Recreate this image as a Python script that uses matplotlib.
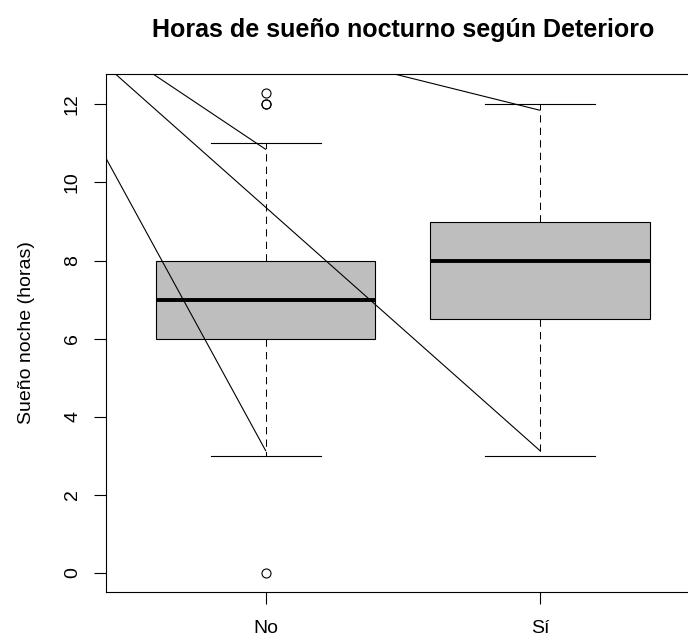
import matplotlib
matplotlib.use("Agg")
import matplotlib.pyplot as plt

plt.rcParams['font.family'] = ['Liberation Sans', 'DejaVu Sans']

categories = ["No", "Sí"]
q1 = [6.0, 6.5]
median = [7.0, 8.0]
q3 = [8.0, 9.0]
whis_lo = [3.0, 3.0]
whis_hi = [11.0, 12.0]
fliers = [[12.0, 12.0, 12.3, 0.0], []]

# extra straight lines drawn over the plot (x0, y0, x1, y1) in data units
seg_x0 = [0.0, 0.0, 0.0, 1.0]
seg_y0 = [16.0, 15.6, 15.55, 13.6]
seg_x1 = [1.0, 2.0, 1.0, 2.0]
seg_y1 = [3.13, 3.13, 10.85, 11.85]

title = "Horas de sueño nocturno según Deterioro"
ylabel = "Sueño noche (horas)"
yticks = [0, 2, 4, 6, 8, 10, 12]

W, H = 688, 639
fig = plt.figure(figsize=(W / 100, H / 100), dpi=100)
left, right, top, bottom = 106, 699.6, 73.5, 592
ax = fig.add_axes([left / W, (H - bottom) / H, (right - left) / W, (bottom - top) / H])

stats = []
for i in range(len(categories)):
    stats.append(dict(q1=q1[i], med=median[i], q3=q3[i], whislo=whis_lo[i],
                      whishi=whis_hi[i], fliers=fliers[i], label=categories[i]))

ax.bxp(stats, positions=[1, 2], widths=0.8, patch_artist=True,
       boxprops=dict(facecolor="#BEBEBE", edgecolor="black", linewidth=0.8),
       medianprops=dict(color="black", linewidth=2.8, solid_capstyle="butt"),
       whiskerprops=dict(color="black", linewidth=0.75, linestyle=(0, (7, 5))),
       capprops=dict(color="black", linewidth=0.8),
       capwidths=0.4,
       flierprops=dict(marker="o", markerfacecolor="none", markeredgecolor="black",
                       markersize=6.5, markeredgewidth=0.8))

for x0, y0, x1, y1 in zip(seg_x0, seg_y0, seg_x1, seg_y1):
    ax.plot([x0, x1], [y0, y1], color="black", linewidth=0.8, zorder=5)

ax.set_xlim(0.418, 2.582)
ax.set_ylim(-0.492, 12.792)
ax.set_yticks(yticks)
ax.set_yticklabels([str(v) for v in yticks], rotation=90, va="center")
ax.set_xticks([1, 2])
ax.set_xticklabels(categories)
ax.tick_params(axis="both", direction="out", length=8.5, width=0.8, labelsize=14, color="black")
ax.tick_params(axis="y", pad=9.5)
ax.tick_params(axis="x", pad=12)
for s in ax.spines.values():
    s.set_linewidth(0.8)
ax.set_ylabel(ylabel, fontsize=14, labelpad=21)
fig.text(403 / W, 1 - 30 / H, title, ha="center", va="center", fontsize=18, fontweight="bold")

fig.savefig("out.png", dpi=100)
